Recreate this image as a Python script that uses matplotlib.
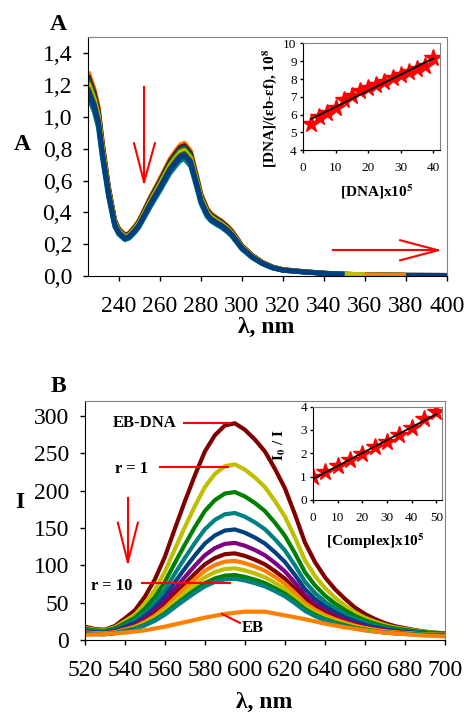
import matplotlib
matplotlib.use('Agg')
import matplotlib.pyplot as plt
from matplotlib.ticker import FuncFormatter
import numpy as np

plt.rcParams['font.family'] = ['Liberation Serif', 'DejaVu Serif']
plt.rcParams['mathtext.fontset'] = 'stix'

# ---- panel A: absorption spectra ----
a_wl = [225, 228, 230, 232, 235, 238, 240, 243, 245, 248, 250, 255, 260, 265, 268,
        270, 272, 275, 278, 280, 283, 285, 288, 290, 293, 295, 298, 300, 305, 310,
        315, 320, 330, 340, 350, 360, 380, 400]
a_ref = [1.16, 1.06, 0.96, 0.76, 0.51, 0.32, 0.27, 0.235, 0.245, 0.285, 0.32, 0.44,
         0.55, 0.665, 0.715, 0.745, 0.755, 0.71, 0.57, 0.47, 0.385, 0.355, 0.33,
         0.315, 0.285, 0.26, 0.21, 0.175, 0.12, 0.08, 0.053, 0.038, 0.027, 0.018,
         0.012, 0.009, 0.006, 0.005]
a_peaks = [0.835, 0.82, 0.81, 0.80, 0.79, 0.785, 0.77, 0.76, 0.735, 0.755]
a_colors = ['#FF8000', '#800000', '#004080', '#008000', '#FF8000', '#BFBF00',
            '#008000', '#800080', '#008080', '#004080']
a_end = [400, 400, 400, 380, 388, 360, 350, 350, 350, 350]

ins_a_x = [2.5, 5, 7.5, 10, 12.5, 15, 17.5, 20, 22.5, 25, 27.5, 30, 32.5, 35, 37.5, 40]
ins_a_y = [5.5, 5.85, 6.1, 6.4, 6.85, 7.05, 7.35, 7.5, 7.65, 7.85, 8.05, 8.25, 8.4,
           8.55, 8.75, 9.2]

# ---- panel B: emission spectra ----
b_wl = list(range(520, 701, 5))
b_shape = [0.062, 0.051, 0.048, 0.065, 0.10, 0.137, 0.20, 0.28, 0.384, 0.514, 0.64,
           0.76, 0.87, 0.945, 0.99, 1.0, 0.97, 0.925, 0.87, 0.79, 0.70, 0.58, 0.45,
           0.36, 0.29, 0.235, 0.19, 0.15, 0.12, 0.097, 0.078, 0.064, 0.055, 0.046,
           0.039, 0.034, 0.031]
b_peaks = [290, 233, 195, 167, 145, 127, 113, 102, 92, 83, 78]
b_offset = [0, 2, 3, 3, 3, 3, 3, 4, 4, 4, 4]
b_colors = ['#800000', '#BFBF00', '#008000', '#008080', '#004080', '#800080',
            '#800000', '#FF8000', '#BFBF00', '#008000', '#008080']
eb_wl = list(range(520, 701, 10))
eb_I = [7, 8, 10, 13, 18, 24, 30, 35, 38, 38, 33, 28, 22, 17, 13, 10, 8, 6, 5]

ins_b_x = [0, 5, 10, 15, 20, 25, 30, 35, 40, 45, 50]
ins_b_y = [1.0, 1.2, 1.45, 1.7, 1.95, 2.25, 2.5, 2.8, 3.1, 3.45, 3.75]

RED = '#FF0000'
comma = FuncFormatter(lambda v, p: f'{v:.1f}'.replace('.', ','))


def style(ax, size, xpad, ypad, tl=3.5):
    for s in ['top', 'right']:
        ax.spines[s].set_color('#808080')
    ax.tick_params(labelsize=size, direction='out', length=tl, width=1)
    ax.tick_params(axis='x', pad=xpad)
    ax.tick_params(axis='y', pad=ypad)


fig = plt.figure(figsize=(4.66, 7.12), dpi=100)

# panel A
ax = fig.add_axes([0.189, 0.612, 0.770, 0.336])
for pk, c, e in zip(a_peaks, a_colors, a_end):
    wl = np.array(a_wl)
    y = np.array(a_ref) * pk / 0.755
    m = wl <= e
    ax.plot(wl[m], y[m], color=c, lw=3.5, solid_capstyle='butt')
ax.set_xlim(225, 400)
ax.set_ylim(0, 1.5)
ax.set_xticks(range(240, 401, 20))
ax.set_yticks(np.arange(0, 1.41, 0.2))
ax.yaxis.set_major_formatter(comma)
style(ax, 17, 11, 8)
ax.plot([252.3, 252.3], [1.185, 0.59], color=RED, lw=1.5)
ax.plot([247.4, 252.3, 257.6], [0.834, 0.59, 0.834], color=RED, lw=1.5)
ax.plot([344.5, 395.7], [0.163, 0.163], color=RED, lw=1.5)
ax.plot([377.2, 395.7, 377.2], [0.226, 0.163, 0.10], color=RED, lw=1.5)
fig.text(58 / 466, 1 - 25 / 712, 'A', fontsize=17, fontweight='bold', ha='center', va='center')
fig.text(22 / 466, 1 - 145 / 712, 'A', fontsize=17, fontweight='bold', ha='center', va='center')
fig.text(266 / 466, 1 - 327 / 712, 'λ, nm', fontsize=17, fontweight='bold', ha='center', va='center')

# inset A
ia = fig.add_axes([0.650, 0.789, 0.294, 0.150])
k = np.polyfit(ins_a_x, ins_a_y, 1)
xs = np.array([ins_a_x[0], ins_a_x[-1]])
ia.plot(ins_a_x, ins_a_y, '*', color=RED, ms=13, mec=RED)
ia.plot(xs, np.polyval(k, xs), color='black', lw=1.3)
ia.set_xlim(0, 42)
ia.set_ylim(4, 10)
ia.set_xticks(range(0, 41, 10))
ia.set_yticks(range(4, 11))
style(ia, 9.5, 6, 2, tl=2.5)
ia.text(0.54, -0.39, r'[DNA]x10$^{\mathbf{5}}$', transform=ia.transAxes, fontsize=11,
        fontweight='bold', ha='center', va='center')
ia.text(-0.24, 0.39, r'[DNA]/(εb-εf), 10$^{\mathbf{8}}$',
        transform=ia.transAxes, fontsize=11, fontweight='bold', ha='center',
        va='center', rotation=90)

# panel B
bx = fig.add_axes([0.182, 0.101, 0.773, 0.336])
for pk, off, c in zip(b_peaks, b_offset, b_colors):
    bx.plot(b_wl, np.array(b_shape) * pk + off, color=c, lw=3)
bx.plot(eb_wl, eb_I, color='#FF8000', lw=3)
bx.set_xlim(520, 700)
bx.set_ylim(0, 320)
bx.set_xticks(range(520, 701, 20))
bx.set_yticks(range(0, 301, 50))
style(bx, 17, 11, 8)
bx.plot([541.5, 541.5], [190, 104], color=RED, lw=1.5)
bx.plot([536.5, 541.5, 546.5], [157, 104, 157], color=RED, lw=1.5)
bx.plot([569.5, 592.5], [290.5, 290.5], color=RED, lw=1.5)
bx.plot([557.5, 591.5], [231.6, 231.6], color=RED, lw=1.5)
bx.plot([548.5, 592.5], [76, 76], color=RED, lw=1.5)
bx.plot([588.5, 597.5], [35, 23], color=RED, lw=1.5)
for t, x, y in [('EB-DNA', 550, 290), ('r = 1', 543.5, 229), ('r = 10', 533.5, 72),
                ('EB', 604, 16)]:
    bx.text(x, y, t, fontsize=12, fontweight='bold', ha='center', va='center')
fig.text(58 / 466, 1 - 387 / 712, 'B', fontsize=17, fontweight='bold', ha='center', va='center')
fig.text(20 / 466, 1 - 503 / 712, 'I', fontsize=17, fontweight='bold', ha='center', va='center')
fig.text(264 / 466, 1 - 702 / 712, 'λ, nm', fontsize=17, fontweight='bold', ha='center', va='center')

# inset B
ib = fig.add_axes([0.672, 0.298, 0.277, 0.131])
k = np.polyfit(ins_b_x, ins_b_y, 1)
xs = np.array([ins_b_x[0], ins_b_x[-1]])
ib.plot(ins_b_x, ins_b_y, '*', color=RED, ms=13, mec=RED)
ib.plot(xs, np.polyval(k, xs), color='black', lw=1.3)
ib.set_xlim(0, 52.4)
ib.set_ylim(0, 4)
ib.set_xticks(range(0, 51, 10))
ib.set_yticks(range(0, 5))
style(ib, 9.5, 6, 2, tl=2.5)
ib.text(0.48, -0.44, r'[Complex]x10$^{\mathbf{5}}$', transform=ib.transAxes, fontsize=11,
        fontweight='bold', ha='center', va='center')
ib.text(-0.256, 0.59, r'I$_{\mathbf{0}}$ / I', transform=ib.transAxes, fontsize=11,
        fontweight='bold', ha='center', va='center', rotation=90)

fig.savefig('out.png', dpi=100)
